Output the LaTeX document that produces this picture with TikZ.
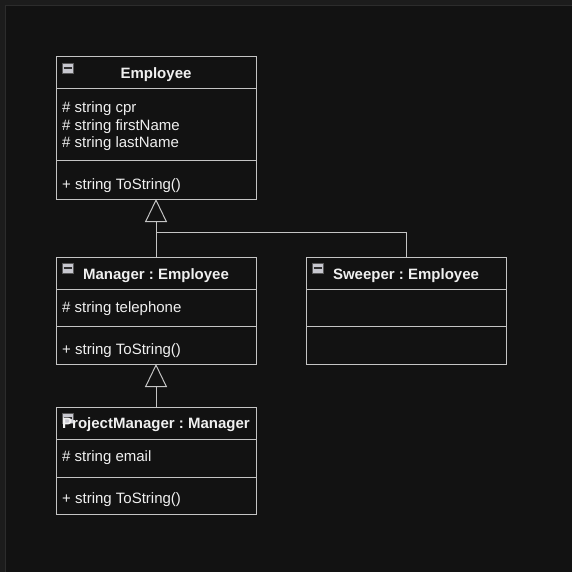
\documentclass[tikz,border=0pt]{standalone}
\usepackage{fontspec}
\setmainfont{Liberation Sans}
\usepackage{xcolor}
\usetikzlibrary{positioning, arrows.meta, calc}
\frenchspacing

\definecolor{canvas}{HTML}{121212}
\definecolor{outerbg}{HTML}{1C1C1C}
\definecolor{framegray}{HTML}{2C2C2C}
\definecolor{umlline}{HTML}{C4C4C4}
\definecolor{umltext}{HTML}{F0F0F0}
\definecolor{icongray}{HTML}{C8C8D0}
\definecolor{iconbar}{HTML}{303030}

\tikzset{
  section/.style={draw=umlline, line width=1pt, fill=canvas, minimum width=200pt,
    inner sep=0pt, outer sep=0pt, anchor=north west},
  title/.style={text=umltext, font=\fontsize{15}{18}\selectfont\bfseries, anchor=base, inner sep=0pt},
  member/.style={text=umltext, font=\fontsize{15}{17.6}\selectfont, anchor=base west,
    align=left, inner sep=0pt},
  inherit/.style={draw=umlline, line width=1pt,
    -{Triangle[open, length=23pt, width=22pt, fill=canvas]}},
}

% collapse box drawn at the top left of a class header
\newcommand{\collapseicon}[1]{%
  \draw[draw=gray!70!black, fill=icongray, line width=0.5pt]
    ($(#1.north west)+(6,6)$) rectangle ++(11,10);
  \draw[iconbar, line width=1.5pt] ($(#1.north west)+(7.5,11)$) -- ++(8,0);
}

\begin{document}
\begin{tikzpicture}[x=1pt, y=-1pt]
  \useasboundingbox (0,0) rectangle (572,572);
  \fill[outerbg] (0,0) rectangle (572,572);
  \fill[canvas] (5.5,5.5) rectangle (572,572);
  \draw[framegray, line width=1pt] (5.5,572) -- (5.5,5.5) -- (572,5.5);

  % Employee
  \node[section, minimum height=32pt] (empHead) at (56,57) {};
  \node[section, minimum height=72pt] (empAttr) at (56,89) {};
  \node[section, minimum height=38pt] (empOps) at (56,161) {};
  \node[title] (empName) at (156,79) {Employee};
  % base of a multi-line node sits on its last line
  \node[member] (empFields) at (62,147.7) {\# string cpr\\\# string firstName\\\# string lastName};
  \node[member] (empMethods) at (62,189.5) {+ string ToString()};
  \collapseicon{empHead}

  % Manager
  \node[section, minimum height=32pt] (mgrHead) at (56,257) {};
  \node[section, minimum height=37pt] (mgrAttr) at (56,289) {};
  \node[section, minimum height=38pt] (mgrOps) at (56,326) {};
  \node[title] (mgrName) at (156,279) {Manager : Employee};
  \node[member] (mgrFields) at (62,312.3) {\# string telephone};
  \node[member] (mgrMethods) at (62,354.3) {+ string ToString()};
  \collapseicon{mgrHead}

  % Sweeper
  \node[section, minimum height=32pt] (swpHead) at (306,257) {};
  \node[section, minimum height=37pt] (swpAttr) at (306,289) {};
  \node[section, minimum height=38pt] (swpOps) at (306,326) {};
  \node[title] (swpName) at (406,279) {Sweeper : Employee};
  \collapseicon{swpHead}

  % ProjectManager
  \node[section, minimum height=32pt] (pmHead) at (56,407) {};
  \node[section, minimum height=38pt] (pmAttr) at (56,439) {};
  \node[section, minimum height=37pt] (pmOps) at (56,477) {};
  \collapseicon{pmHead}
  \node[title] (pmName) at (156,428.3) {ProjectManager : Manager};
  \node[member] (pmFields) at (62,461.7) {\# string email};
  \node[member] (pmMethods) at (62,503.3) {+ string ToString()};

  % generalisations
  \draw[inherit] (mgrHead.north) -- (empOps.south);
  \draw[draw=umlline, line width=1pt] (swpHead.north) |- (156,232);
  \draw[inherit] (pmHead.north) -- (mgrOps.south);
\end{tikzpicture}
\end{document}
